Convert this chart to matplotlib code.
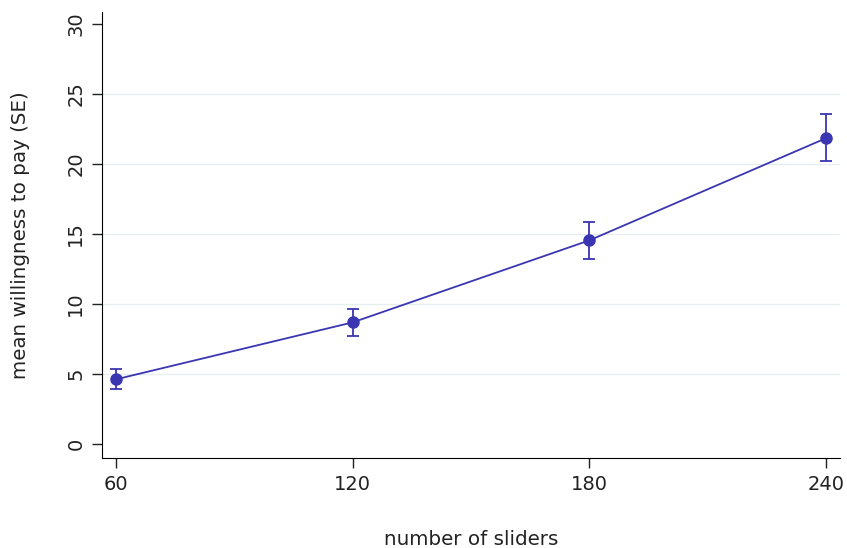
import numpy as np
from matplotlib import pyplot as plt

sliders = [60, 120, 180, 240]
mean_wtp = [4.62, 8.69, 14.55, 21.85]
upper = [5.38, 9.62, 15.85, 23.55]
lower = [3.93, 7.70, 13.25, 20.20]

color = '#3a36b2'

fig = plt.figure(figsize=(8.47, 5.48), dpi=100)
ax = fig.add_axes([102/847, 90/548, 738/847, 446/548])

yerr = [np.subtract(mean_wtp, lower), np.subtract(upper, mean_wtp)]
ax.errorbar(sliders, mean_wtp, yerr=yerr, color=color, marker='o', markersize=8,
            linewidth=1.3, elinewidth=1.3, capsize=4, capthick=1.3, zorder=3)

ax.set_xlim(56.45, 243.5)
ax.set_ylim(-1.0, 30.86)
ax.set_xticks(sliders)
ax.set_yticks(range(0, 31, 5))
for y in range(5, 30, 5):
    ax.axhline(y, color='#e6eef0', linewidth=1, zorder=0)

ax.spines['top'].set_visible(False)
ax.spines['right'].set_visible(False)
ax.tick_params(labelsize=14, length=7, width=1, color='#222222', labelcolor='#222222', pad=5)
for lab in ax.get_yticklabels():
    lab.set_rotation(90)
    lab.set_va('center')

ax.set_xlabel('number of sliders', fontsize=14.3, labelpad=26, color='#222222')
ax.set_ylabel('mean willingness to pay (SE)', fontsize=14.3, labelpad=26, color='#222222')

fig.savefig('out.png', dpi=100)
